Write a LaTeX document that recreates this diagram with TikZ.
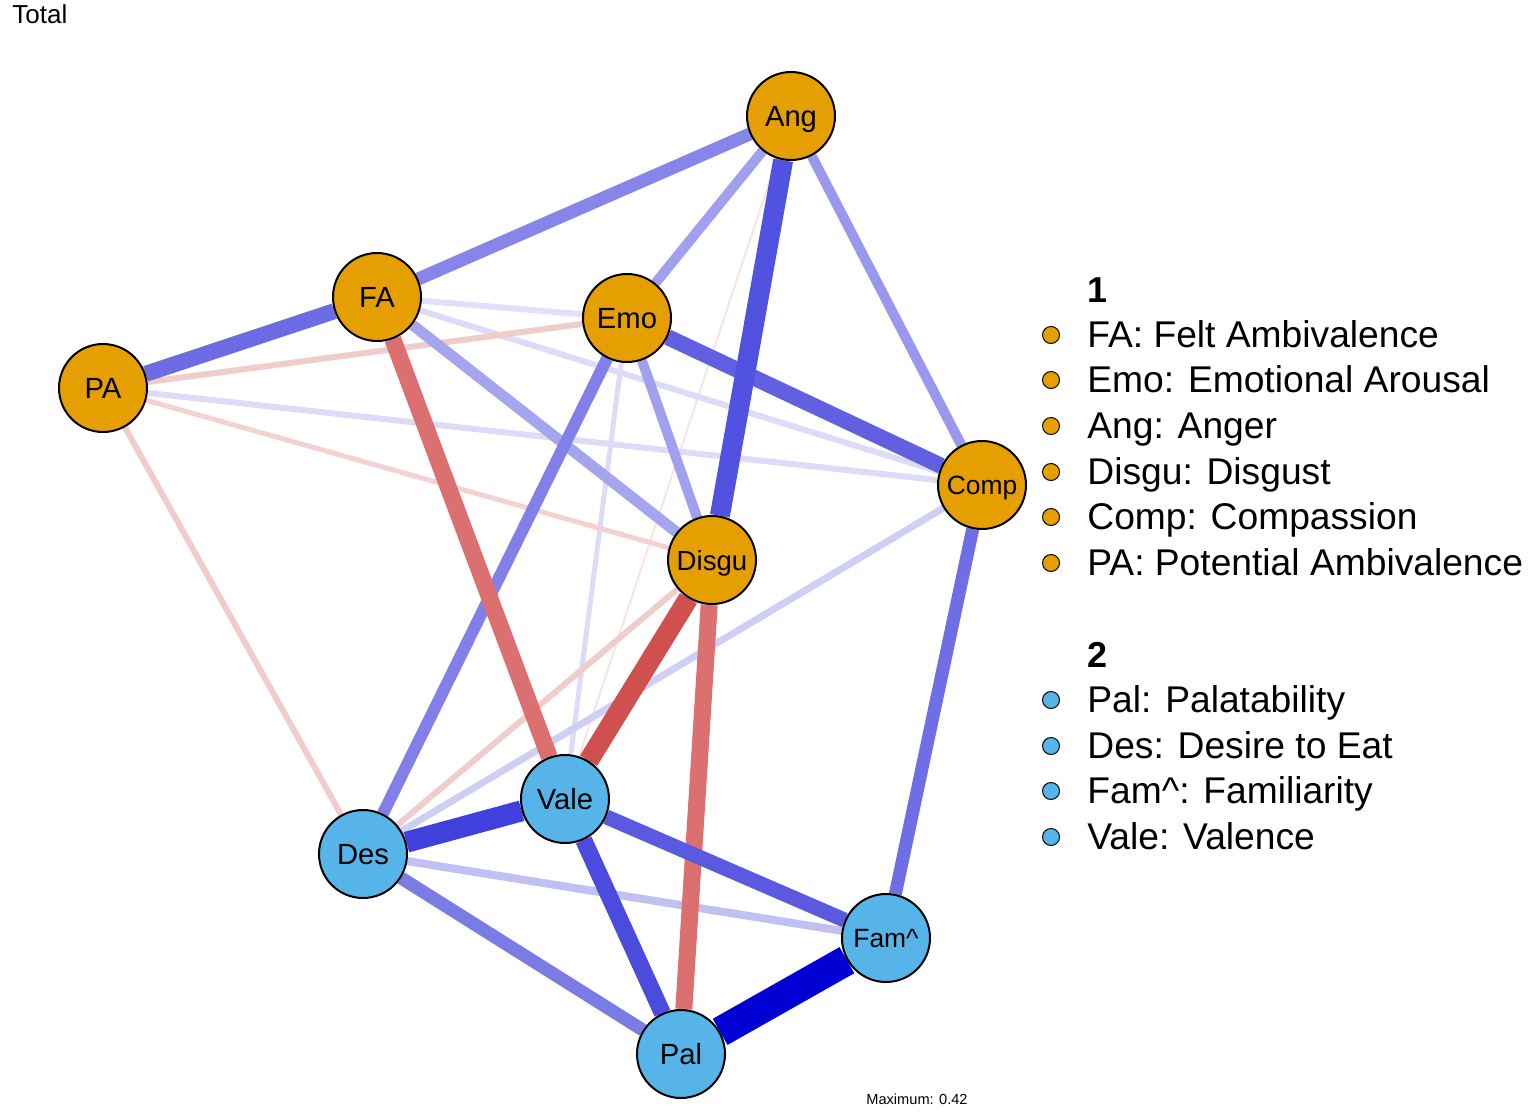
\documentclass[tikz,border=0pt]{standalone}
\usepackage{fontspec}
\setmainfont{Liberation Sans}
\usetikzlibrary{backgrounds}
\definecolor{orA}{HTML}{E69F00}
\definecolor{blB}{HTML}{56B4E9}
\definecolor{cAngVale}{HTML}{F8E4E4}
\definecolor{cFAEmo}{HTML}{E0E0FA}
\definecolor{cFAComp}{HTML}{DCDCF8}
\definecolor{cPAComp}{HTML}{DCDCF8}
\definecolor{cEmoVale}{HTML}{DCDCF8}
\definecolor{cPADisgu}{HTML}{F2D2D2}
\definecolor{cPAEmo}{HTML}{F0CCCC}
\definecolor{cPADes}{HTML}{F0CCCC}
\definecolor{cDisguDes}{HTML}{F0CCCC}
\definecolor{cCompDes}{HTML}{CFCFF5}
\definecolor{cDesFam}{HTML}{C0C0F3}
\definecolor{cEmoDisgu}{HTML}{A0A0EE}
\definecolor{cFADisgu}{HTML}{A5A5EE}
\definecolor{cAngEmo}{HTML}{A0A0EE}
\definecolor{cAngComp}{HTML}{9898EC}
\definecolor{cAngFA}{HTML}{8585EA}
\definecolor{cEmoDes}{HTML}{8080E8}
\definecolor{cDesPal}{HTML}{7B7BE6}
\definecolor{cCompFam}{HTML}{6E6EE5}
\definecolor{cFAVale}{HTML}{DC7070}
\definecolor{cDisguPal}{HTML}{DC7070}
\definecolor{cFAPA}{HTML}{6B6BE3}
\definecolor{cEmoComp}{HTML}{6060E0}
\definecolor{cValeFam}{HTML}{5A5AE0}
\definecolor{cValePal}{HTML}{4B4BDD}
\definecolor{cAngDisgu}{HTML}{5252E0}
\definecolor{cDisguVale}{HTML}{D05050}
\definecolor{cValeDes}{HTML}{4040DD}
\definecolor{cPalFam}{HTML}{0000D5}
\begin{document}
\begin{tikzpicture}[x=0.5pt,y=-0.5pt,
  vnode/.style={circle,draw=black,line width=1pt,minimum size=44pt,inner sep=0pt,
    text depth=0pt,
    font=\fontsize{14.6}{16}\selectfont},
  grpA/.style={vnode,fill=orA},
  grpB/.style={vnode,fill=blB},
  smalllab/.style={font=\fontsize{13.2}{15}\selectfont},
  ed/.style={line cap=butt},
  legdotA/.style={circle,draw=black,line width=0.5pt,fill=orA,minimum size=8.5pt,inner sep=0pt},
  legdotB/.style={circle,draw=black,line width=0.5pt,fill=blB,minimum size=8.5pt,inner sep=0pt},
  legtext/.style={anchor=base west,inner sep=0pt,font=\fontsize{18.6}{21}\selectfont},
  leghead/.style={anchor=base west,inner sep=0pt,font=\fontsize{18}{21}\selectfont\bfseries}]
\useasboundingbox (0,0) rectangle (1535,1119);
% nodes
\node[grpA] (Ang) at (791,116) {Ang};
\node[grpA] (FA) at (377,297) {FA};
\node[grpA] (Emo) at (627,318) {Emo};
\node[grpA] (PA) at (103,388) {PA};
\node[grpA,smalllab] (Comp) at (982,485) {Comp};
\node[grpA,font=\fontsize{13.8}{15}\selectfont] (Disgu) at (712,560) {Disgu};
\node[grpB] (Vale) at (565,799) {Vale};
\node[grpB] (Des) at (363,854) {Des};
\node[grpB,smalllab] (Fam) at (886,938) {Fam\textasciicircum};
\node[grpB] (Pal) at (681,1054) {Pal};
% edges
\begin{scope}[on background layer]
\draw[ed,line width=1pt,cAngVale] (Ang) -- (Vale);
\draw[ed,line width=3pt,cFAEmo] (FA) -- (Emo);
\draw[ed,line width=3pt,cFAComp] (FA) -- (Comp);
\draw[ed,line width=3pt,cPAComp] (PA) -- (Comp);
\draw[ed,line width=2.5pt,cEmoVale] (Emo) -- (Vale);
\draw[ed,line width=2.5pt,cPADisgu] (PA) -- (Disgu);
\draw[ed,line width=3pt,cPAEmo] (PA) -- (Emo);
\draw[ed,line width=3pt,cPADes] (PA) -- (Des);
\draw[ed,line width=3pt,cDisguDes] (Disgu) -- (Des);
\draw[ed,line width=3.5pt,cCompDes] (Comp) -- (Des);
\draw[ed,line width=4pt,cDesFam] (Des) -- (Fam);
\draw[ed,line width=5pt,cEmoDisgu] (Emo) -- (Disgu);
\draw[ed,line width=5.5pt,cFADisgu] (FA) -- (Disgu);
\draw[ed,line width=5pt,cAngEmo] (Ang) -- (Emo);
\draw[ed,line width=5pt,cAngComp] (Ang) -- (Comp);
\draw[ed,line width=6.5pt,cAngFA] (Ang) -- (FA);
\draw[ed,line width=6pt,cEmoDes] (Emo) -- (Des);
\draw[ed,line width=6.5pt,cDesPal] (Des) -- (Pal);
\draw[ed,line width=6.5pt,cCompFam] (Comp) -- (Fam);
\draw[ed,line width=8.5pt,cFAVale] (FA) -- (Vale);
\draw[ed,line width=8.5pt,cDisguPal] (Disgu) -- (Pal);
\draw[ed,line width=8pt,cFAPA] (FA) -- (PA);
\draw[ed,line width=8pt,cEmoComp] (Emo) -- (Comp);
\draw[ed,line width=7.5pt,cValeFam] (Vale) -- (Fam);
\draw[ed,line width=8.5pt,cValePal] (Vale) -- (Pal);
\draw[ed,line width=10pt,cAngDisgu] (Ang) -- (Disgu);
\draw[ed,line width=10pt,cDisguVale] (Disgu) -- (Vale);
\draw[ed,line width=10.5pt,cValeDes] (Vale) -- (Des);
\draw[ed,line width=15pt,cPalFam] (Pal) -- (Fam);
\end{scope}
% titles
\node[anchor=base west,inner sep=0pt,font=\fontsize{13}{15}\selectfont] (title) at (12,24) {Total};
\node[anchor=base west,inner sep=0pt,font=\fontsize{7.3}{8}\selectfont] (maxlab) at (866,1104) {Maximum: 0.42};
% legend 1
\node[leghead] (h1) at (1087,302) {1};
\node[legdotA] (d1) at (1051,335) {};
\node[legtext] (t1) at (1087,347) {FA: Felt Ambivalence};
\node[legdotA] (d2) at (1051,380) {};
\node[legtext] (t2) at (1087,392) {Emo: Emotional Arousal};
\node[legdotA] (d3) at (1051,426) {};
\node[legtext] (t3) at (1087,438) {Ang: Anger};
\node[legdotA] (d4) at (1051,472) {};
\node[legtext] (t4) at (1087,484) {Disgu: Disgust};
\node[legdotA] (d5) at (1051,517) {};
\node[legtext] (t5) at (1087,529) {Comp: Compassion};
\node[legdotA] (d6) at (1051,563) {};
\node[legtext] (t6) at (1087,575) {PA: Potential Ambivalence};
% legend 2
\node[leghead] (h2) at (1087,667) {2};
\node[legdotB] (e1) at (1051,700) {};
\node[legtext] (u1) at (1087,712) {Pal: Palatability};
\node[legdotB] (e2) at (1051,746) {};
\node[legtext] (u2) at (1087,758) {Des: Desire to Eat};
\node[legdotB] (e3) at (1051,791) {};
\node[legtext] (u3) at (1087,803) {Fam\textasciicircum: Familiarity};
\node[legdotB] (e4) at (1051,837) {};
\node[legtext] (u4) at (1087,849) {Vale: Valence};
\end{tikzpicture}
\end{document}
